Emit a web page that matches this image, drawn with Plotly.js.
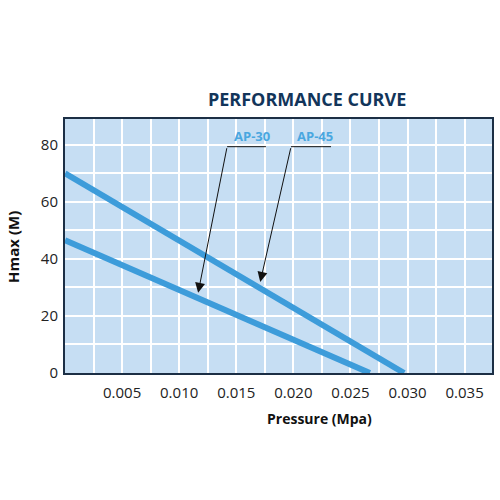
<!DOCTYPE html>
<html>
<head>
<meta charset="utf-8">
<script src="https://cdn.plot.ly/plotly-3.0.1.min.js"></script>
<style>html,body{margin:0;padding:0;background:#fff;}#chart{width:500px;height:500px;}</style>
</head>
<body>
<div id="chart"></div>
<script>
// Data
var seriesNames = ["AP-30", "AP-45"];
var ap30Pressure = [0, 0.0267];
var ap30Head = [46.5, 0];
var ap45Pressure = [0, 0.0297];
var ap45Head = [70, 0];
var xTickVals = [0.005, 0.010, 0.015, 0.020, 0.025, 0.030, 0.035];
var xTickText = ["0.005", "0.010", "0.015", "0.020", "0.025", "0.030", "0.035"];
var yTickVals = [0, 20, 40, 60, 80];

var lineColor = "#3d9cda";
var traces = [
  {x: ap30Pressure, y: ap30Head, name: seriesNames[0], mode: "lines", line: {color: lineColor, width: 6}},
  {x: ap45Pressure, y: ap45Head, name: seriesNames[1], mode: "lines", line: {color: lineColor, width: 6}}
];

var fam = "Open Sans, Liberation Sans, sans-serif";
var labelFont = {family: fam, size: 13, color: "#4aa7e0"};
var layout = {
  width: 500, height: 500,
  margin: {l: 65, r: 8, t: 119, b: 127},
  paper_bgcolor: "#ffffff",
  plot_bgcolor: "#c6def3",
  showlegend: false,
  title: {
    text: "<b>PERFORMANCE CURVE</b>",
    font: {family: fam, size: 18, color: "#12355a"},
    x: 0.567, xanchor: "center", xref: "paper",
    y: 0.8, yanchor: "middle"
  },
  xaxis: {
    range: [0, 0.0374],
    tickmode: "array", tickvals: xTickVals, ticktext: xTickText,
    ticks: "", ticklen: 0, ticklabelstandoff: 5,
    tickfont: {family: fam, size: 15, color: "#222"},
    showgrid: true, gridcolor: "#ffffff", gridwidth: 2,
    minor: {tick0: 0, dtick: 0.0025, showgrid: true, gridcolor: "#ffffff", gridwidth: 2},
    showline: true, linecolor: "#1c2f45", linewidth: 2, mirror: true,
    zeroline: false, fixedrange: true
  },
  yaxis: {
    range: [0, 89],
    tickmode: "array", tickvals: yTickVals,
    ticks: "", ticklen: 0, ticklabelstandoff: 2,
    tickfont: {family: fam, size: 15, color: "#222"},
    showgrid: true, gridcolor: "#ffffff", gridwidth: 2,
    minor: {tick0: 0, dtick: 10, showgrid: true, gridcolor: "#ffffff", gridwidth: 2},
    showline: true, linecolor: "#1c2f45", linewidth: 2, mirror: true,
    zeroline: false, fixedrange: true
  },
  shapes: [
    {type: "line", xref: "x", yref: "y", x0: 0.0142, y0: 79.3, x1: 0.0176, y1: 79.3, line: {color: "#111", width: 1}},
    {type: "line", xref: "x", yref: "y", x0: 0.0198, y0: 79.3, x1: 0.0233, y1: 79.3, line: {color: "#111", width: 1}}
  ],
  annotations: [
    {text: "<b>AP-30</b>", x: 0.0164, y: 83.2, xref: "x", yref: "y", showarrow: false, font: labelFont},
    {text: "<b>AP-45</b>", x: 0.0219, y: 83.2, xref: "x", yref: "y", showarrow: false, font: labelFont},
    {text: "", x: 0.01166, y: 28.1, xref: "x", yref: "y", ax: 0.0142, ay: 79.3, axref: "x", ayref: "y",
     showarrow: true, arrowhead: 2, arrowsize: 2, arrowwidth: 1, arrowcolor: "#111"},
    {text: "", x: 0.0171, y: 31.9, xref: "x", yref: "y", ax: 0.0198, ay: 79.3, axref: "x", ayref: "y",
     showarrow: true, arrowhead: 2, arrowsize: 2, arrowwidth: 1, arrowcolor: "#111"},
    {text: "<b>Pressure (Mpa)</b>", x: 0.597, y: -0.178, xref: "paper", yref: "paper", showarrow: false,
     xanchor: "center", yanchor: "middle",
     font: {family: fam, size: 14, color: "#111"}},
    {text: "<b>Hmax (M)</b>", x: -0.122, y: 0.496, xref: "paper", yref: "paper", showarrow: false,
     xanchor: "center", yanchor: "middle", textangle: -90,
     font: {family: fam, size: 15, color: "#111"}}
  ]
};

Plotly.newPlot("chart", traces, layout, {staticPlot: true, displayModeBar: false});
</script>
</body>
</html>
